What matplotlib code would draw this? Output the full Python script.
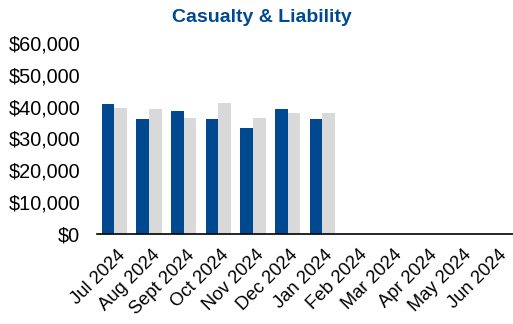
import numpy as np
import matplotlib
matplotlib.use("Agg")
import matplotlib.pyplot as plt
import matplotlib.transforms as mtransforms
from matplotlib.ticker import FuncFormatter

plt.rcParams["font.family"] = ["Liberation Sans", "DejaVu Sans"]

months = ["Jul 2024", "Aug 2024", "Sept 2024", "Oct 2024", "Nov 2024", "Dec 2024",
          "Jan 2024", "Feb 2024", "Mar 2024", "Apr 2024", "May 2024", "Jun 2024"]
current = [40700, 36100, 38600, 36100, 33200, 39200, 36100]
prior = [39700, 39400, 36400, 41200, 36400, 37900, 37900]

blue = "#004990"
gray = "#D9D9D9"

fig = plt.figure(figsize=(5.13, 3.24), dpi=100)
ax = fig.add_axes([97 / 513, 1 - 234 / 324, 1 - 97 / 513, 191 / 324])

x = np.arange(len(months))
w = 0.37
ax.bar(x[:len(current)] - w / 2, current, width=w, color=blue)
ax.bar(x[:len(prior)] + w / 2, prior, width=w, color=gray)

ax.set_xlim(-0.5, len(months) - 0.5)
ax.set_ylim(0, 60000)
ax.set_yticks(np.arange(0, 60001, 10000))
ax.yaxis.set_major_formatter(FuncFormatter(lambda v, p: f"${v:,.0f}"))
ax.set_xticks(x)
ax.set_xticklabels(months, rotation=45, ha="right", rotation_mode="anchor", fontsize=13.2)
ax.tick_params(axis="y", labelsize=14.3, length=0, pad=12)
ax.tick_params(axis="x", length=0, pad=9)

# nudge the rotated month labels a bit to the right
shift = mtransforms.ScaledTranslation(2 / 100, 0, fig.dpi_scale_trans)
for lbl in ax.get_xticklabels():
    lbl.set_transform(lbl.get_transform() + shift)

for s in ["top", "right", "left"]:
    ax.spines[s].set_visible(False)
ax.spines["bottom"].set_color("black")
ax.spines["bottom"].set_linewidth(1.2)

fig.text(262 / 513, 1 - 17 / 324, "Casualty & Liability", color=blue, fontsize=14,
         fontweight="bold", ha="center", va="center")

fig.savefig("out.png", dpi=100)
